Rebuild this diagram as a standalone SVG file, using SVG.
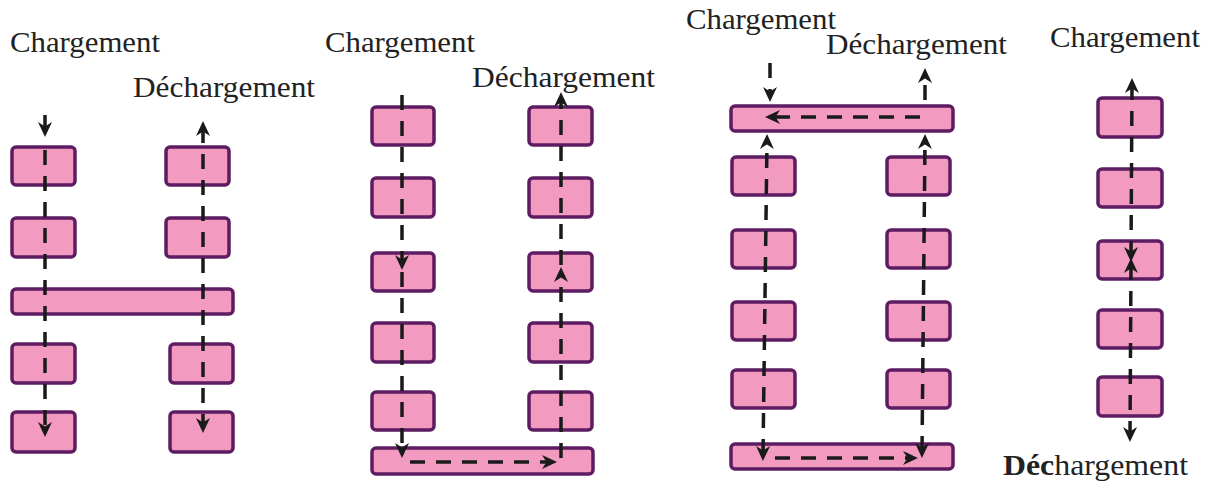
<svg xmlns="http://www.w3.org/2000/svg" width="1211" height="483" viewBox="0 0 1211 483">
<defs>
<style>
.box{fill:#f29ac0;stroke:#5e1c62;stroke-width:3.5}
.lbl{font-family:"Liberation Serif","DejaVu Serif",serif;font-size:29px;fill:#222}
.ln{fill:none;stroke:#1a1a1a;stroke-width:3.5;stroke-dasharray:15 11}
.sl{fill:none;stroke:#1a1a1a;stroke-width:3.5}
</style>
<marker id="ah" viewBox="-9 -9 18 18" markerWidth="18" markerHeight="18" markerUnits="userSpaceOnUse" refX="0" refY="0" orient="auto-start-reverse">
<path d="M7,0 L-8,-7 L-3.5,0 L-8,7 Z" fill="#1a1a1a"/>
</marker>
</defs>
<rect width="1211" height="483" fill="#ffffff"/>

<g id="labels">
<text class="lbl" x="10" y="52" textLength="150" lengthAdjust="spacingAndGlyphs">Chargement</text>
<text class="lbl" x="133" y="97" textLength="182" lengthAdjust="spacingAndGlyphs">Déchargement</text>
<text class="lbl" x="325" y="52" textLength="150" lengthAdjust="spacingAndGlyphs">Chargement</text>
<text class="lbl" x="472" y="87" textLength="183" lengthAdjust="spacingAndGlyphs">Déchargement</text>
<text class="lbl" x="686" y="29" textLength="150" lengthAdjust="spacingAndGlyphs">Chargement</text>
<text class="lbl" x="826" y="54" textLength="181" lengthAdjust="spacingAndGlyphs">Déchargement</text>
<text class="lbl" x="1050" y="47" textLength="150" lengthAdjust="spacingAndGlyphs">Chargement</text>
<text class="lbl" x="1003" y="475" textLength="185" lengthAdjust="spacingAndGlyphs"><tspan font-weight="bold">Déc</tspan>hargement</text>
</g>

<g id="panel1">
<rect id="p1-l1" class="box" x="12" y="147" width="63" height="38" rx="4"/>
<rect id="p1-l2" class="box" x="12" y="218" width="63" height="39" rx="4"/>
<rect id="p1-r1" class="box" x="166" y="147" width="63" height="38" rx="4"/>
<rect id="p1-r2" class="box" x="166" y="218" width="63" height="39" rx="4"/>
<rect id="p1-bar" class="box" x="12" y="289" width="221" height="25" rx="4"/>
<rect id="p1-l4" class="box" x="12" y="344" width="63" height="39" rx="4"/>
<rect id="p1-r4" class="box" x="170" y="344" width="63" height="39" rx="4"/>
<rect id="p1-l5" class="box" x="12" y="412" width="63" height="40" rx="4"/>
<rect id="p1-r5" class="box" x="170" y="412" width="63" height="40" rx="4"/>
</g>

<g id="panel2">
<rect id="p2-l1" class="box" x="372" y="107" width="62" height="38" rx="4"/>
<rect id="p2-l2" class="box" x="372" y="178" width="62" height="39" rx="4"/>
<rect id="p2-l3" class="box" x="372" y="253" width="62" height="38" rx="4"/>
<rect id="p2-l4" class="box" x="372" y="323" width="62" height="39" rx="4"/>
<rect id="p2-l5" class="box" x="372" y="392" width="62" height="38" rx="4"/>
<rect id="p2-r1" class="box" x="529" y="107" width="63" height="38" rx="4"/>
<rect id="p2-r2" class="box" x="529" y="178" width="63" height="39" rx="4"/>
<rect id="p2-r3" class="box" x="529" y="253" width="63" height="38" rx="4"/>
<rect id="p2-r4" class="box" x="529" y="323" width="63" height="39" rx="4"/>
<rect id="p2-r5" class="box" x="529" y="392" width="63" height="38" rx="4"/>
<rect id="p2-bar" class="box" x="372" y="448" width="221" height="26" rx="4"/>
</g>

<g id="panel3">
<rect id="p3-top" class="box" x="731" y="106" width="222" height="25" rx="4"/>
<rect id="p3-l1" class="box" x="732" y="157" width="63" height="38" rx="4"/>
<rect id="p3-l2" class="box" x="732" y="230" width="63" height="38" rx="4"/>
<rect id="p3-l3" class="box" x="732" y="302" width="63" height="38" rx="4"/>
<rect id="p3-l4" class="box" x="732" y="370" width="63" height="38" rx="4"/>
<rect id="p3-r1" class="box" x="887" y="157" width="63" height="38" rx="4"/>
<rect id="p3-r2" class="box" x="887" y="230" width="63" height="38" rx="4"/>
<rect id="p3-r3" class="box" x="887" y="302" width="63" height="38" rx="4"/>
<rect id="p3-r4" class="box" x="887" y="370" width="63" height="38" rx="4"/>
<rect id="p3-bot" class="box" x="731" y="444" width="222" height="25" rx="4"/>
</g>

<g id="panel4">
<rect id="p4-1" class="box" x="1098" y="98" width="64" height="39" rx="4"/>
<rect id="p4-2" class="box" x="1098" y="169" width="64" height="38" rx="4"/>
<rect id="p4-3" class="box" x="1098" y="241" width="64" height="38" rx="4"/>
<rect id="p4-4" class="box" x="1098" y="310" width="64" height="38" rx="4"/>
<rect id="p4-5" class="box" x="1098" y="377" width="64" height="39" rx="4"/>
</g>

<g id="connectors">
<!-- panel 1 -->
<path class="sl" d="M45,115 V130" marker-end="url(#ah)"/>
<path class="ln" d="M45,150 V430" marker-end="url(#ah)"/>
<path class="ln" d="M203,128 V426" marker-start="url(#ah)" marker-end="url(#ah)"/>
<!-- panel 2 -->
<path class="ln" d="M402,95 V263" marker-end="url(#ah)"/>
<path class="ln" d="M402,272 V451" marker-end="url(#ah)"/>
<path class="ln" d="M410,462 H550" marker-end="url(#ah)"/>
<path class="ln" d="M561,458 V274" marker-end="url(#ah)"/>
<path class="ln" d="M561,265 V99" marker-end="url(#ah)"/>
<!-- panel 3 -->
<path class="ln" d="M770,63 V95" marker-end="url(#ah)"/>
<path class="ln" d="M920,117 H772" marker-end="url(#ah)"/>
<path class="ln" d="M925,100 V75" marker-end="url(#ah)"/>
<path class="ln" d="M763,454 L767,141" marker-start="url(#ah)" marker-end="url(#ah)"/>
<path class="ln" d="M922,451 L925,141" marker-start="url(#ah)" marker-end="url(#ah)"/>
<path class="ln" d="M775,458 H911" marker-end="url(#ah)"/>
<!-- panel 4 -->
<path class="ln" d="M1132,85 L1131,255" marker-start="url(#ah)" marker-end="url(#ah)"/>
<path class="ln" d="M1131,265 L1130,435" marker-start="url(#ah)" marker-end="url(#ah)"/>
</g>
</svg>
